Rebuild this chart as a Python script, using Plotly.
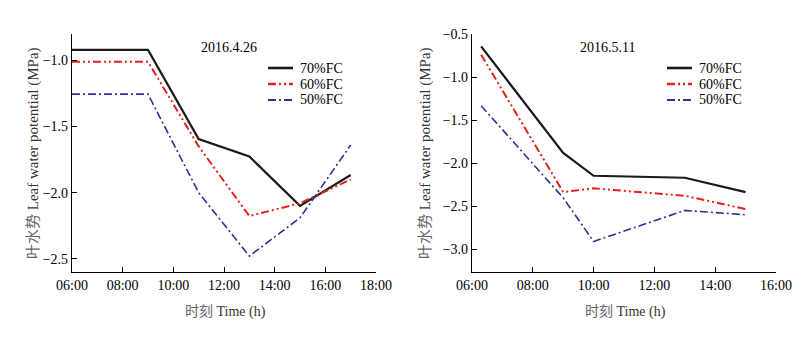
import plotly.graph_objects as go

# Sampling times (decimal hours) and leaf water potential (MPa)
hours_0426 = [6, 9, 11, 13, 15, 17]
fc70_0426 = [-0.92, -0.92, -1.595, -1.727, -2.10, -1.866]
fc60_0426 = [-1.01, -1.01, -1.65, -2.177, -2.08, -1.90]
fc50_0426 = [-1.255, -1.255, -2.00, -2.48, -2.19, -1.64]

hours_0511 = [6.3, 9, 10, 13, 15]
fc70_0511 = [-0.644, -1.88, -2.144, -2.167, -2.333]
fc60_0511 = [-0.74, -2.333, -2.29, -2.376, -2.53]
fc50_0511 = [-1.332, -2.40, -2.906, -2.546, -2.596]

series_names = ["70%FC", "60%FC", "50%FC"]
titles = ["2016.4.26", "2016.5.11"]

x_ticks_0426 = [6, 8, 10, 12, 14, 16, 18]
x_ticks_0511 = [6, 8, 10, 12, 14, 16]
y_ticks_0426 = [-2.5, -2.0, -1.5, -1.0]
y_ticks_0511 = [-3.0, -2.5, -2.0, -1.5, -1.0, -0.5]


def hhmm(h):
    return f"{int(h):02d}:00"


SERIF = "Liberation Serif"
styles = [
    dict(color="#1a1a1a", width=2.2, dash="solid"),
    dict(color="#e3211c", width=2.0, dash="8px,3px,2px,3px,2px,3px"),
    dict(color="#2e3192", width=1.6, dash="8px,3px,2px,3px"),
]

W, H = 802, 344
PLOT_TOP, PLOT_BOTTOM = 34, 272
panel_x = [(72, 376), (472, 776)]

fig = go.Figure()

panels = [
    (hours_0426, [fc70_0426, fc60_0426, fc50_0426], "x", "y"),
    (hours_0511, [fc70_0511, fc60_0511, fc50_0511], "x2", "y2"),
]
for hrs, series, xa, ya in panels:
    for name, vals, st in zip(series_names, series, styles):
        fig.add_trace(go.Scatter(
            x=hrs, y=vals, mode="lines", name=name, line=st,
            xaxis=xa, yaxis=ya, showlegend=False,
        ))

axis_common = dict(
    showline=True, linecolor="black", linewidth=1.3,
    ticks="inside", ticklen=5, tickwidth=1.2, tickcolor="black",
    showgrid=False, zeroline=False, mirror=False, automargin=False,
    tickfont=dict(family=SERIF, size=14, color="black"),
)
xdom = [[a / W, b / W] for a, b in panel_x]
ydom = [(H - PLOT_BOTTOM) / H, (H - PLOT_TOP) / H]

fig.update_layout(
    width=W, height=H,
    margin=dict(l=0, r=0, t=0, b=0),
    paper_bgcolor="white", plot_bgcolor="white",
    showlegend=False,
    xaxis=dict(axis_common, domain=xdom[0], range=[6, 18],
               tickvals=x_ticks_0426, ticktext=[hhmm(h) for h in x_ticks_0426], anchor="y"),
    yaxis=dict(axis_common, domain=ydom, range=[-2.6, -0.8],
               tickvals=y_ticks_0426, tickformat=".1f", anchor="x"),
    xaxis2=dict(axis_common, domain=xdom[1], range=[6, 16],
                tickvals=x_ticks_0511, ticktext=[hhmm(h) for h in x_ticks_0511], anchor="y2"),
    yaxis2=dict(axis_common, domain=ydom, range=[-3.26, -0.5],
                tickvals=y_ticks_0511, tickformat=".1f", anchor="x2"),
)

ytitle = "<span style='color:#666'>叶水势</span> Leaf water potential (MPa)"
xtitle = "<span style='color:#666'>时刻</span> Time (h)"
xtitle_font = dict(family=SERIF + ", Noto Sans CJK SC", size=14, color="#333")
ytitle_font = dict(family=SERIF + ", Noto Sans CJK SC", size=15, color="#333")

for i, (x0, x1) in enumerate(panel_x):
    # axis titles
    fig.add_annotation(text=xtitle, xref="paper", yref="paper",
                       x=(x0 + 153) / W, y=(H - 312) / H, showarrow=False,
                       xanchor="center", yanchor="middle", font=xtitle_font)
    fig.add_annotation(text=ytitle, xref="paper", yref="paper",
                       x=(x0 - [39, 47][i]) / W, y=(H - 153) / H, showarrow=False,
                       textangle=-90, xanchor="center", yanchor="middle", font=ytitle_font)
    # panel date label
    fig.add_annotation(text=titles[i], xref="paper", yref="paper",
                       x=[229, 607.5][i] / W, y=(H - 47) / H, showarrow=False,
                       xanchor="center", yanchor="middle",
                       font=dict(family=SERIF, size=14, color="black"))
    # key: line sample + label per series
    lx0 = [268, 667][i]
    for j, (name, st) in enumerate(zip(series_names, styles)):
        ry = [68, 84, 100][j]
        fig.add_shape(type="line", xref="paper", yref="paper",
                      x0=lx0 / W, x1=(lx0 + 25) / W, y0=(H - ry) / H, y1=(H - ry) / H,
                      line=dict(color=st["color"], width=st["width"] + 0.4, dash=st["dash"]))
        fig.add_annotation(text=name, xref="paper", yref="paper",
                           x=(lx0 + 30) / W, y=(H - ry) / H, showarrow=False,
                           xanchor="left", yanchor="middle",
                           font=dict(family=SERIF, size=14, color="black"))

fig.write_html("out.html")
